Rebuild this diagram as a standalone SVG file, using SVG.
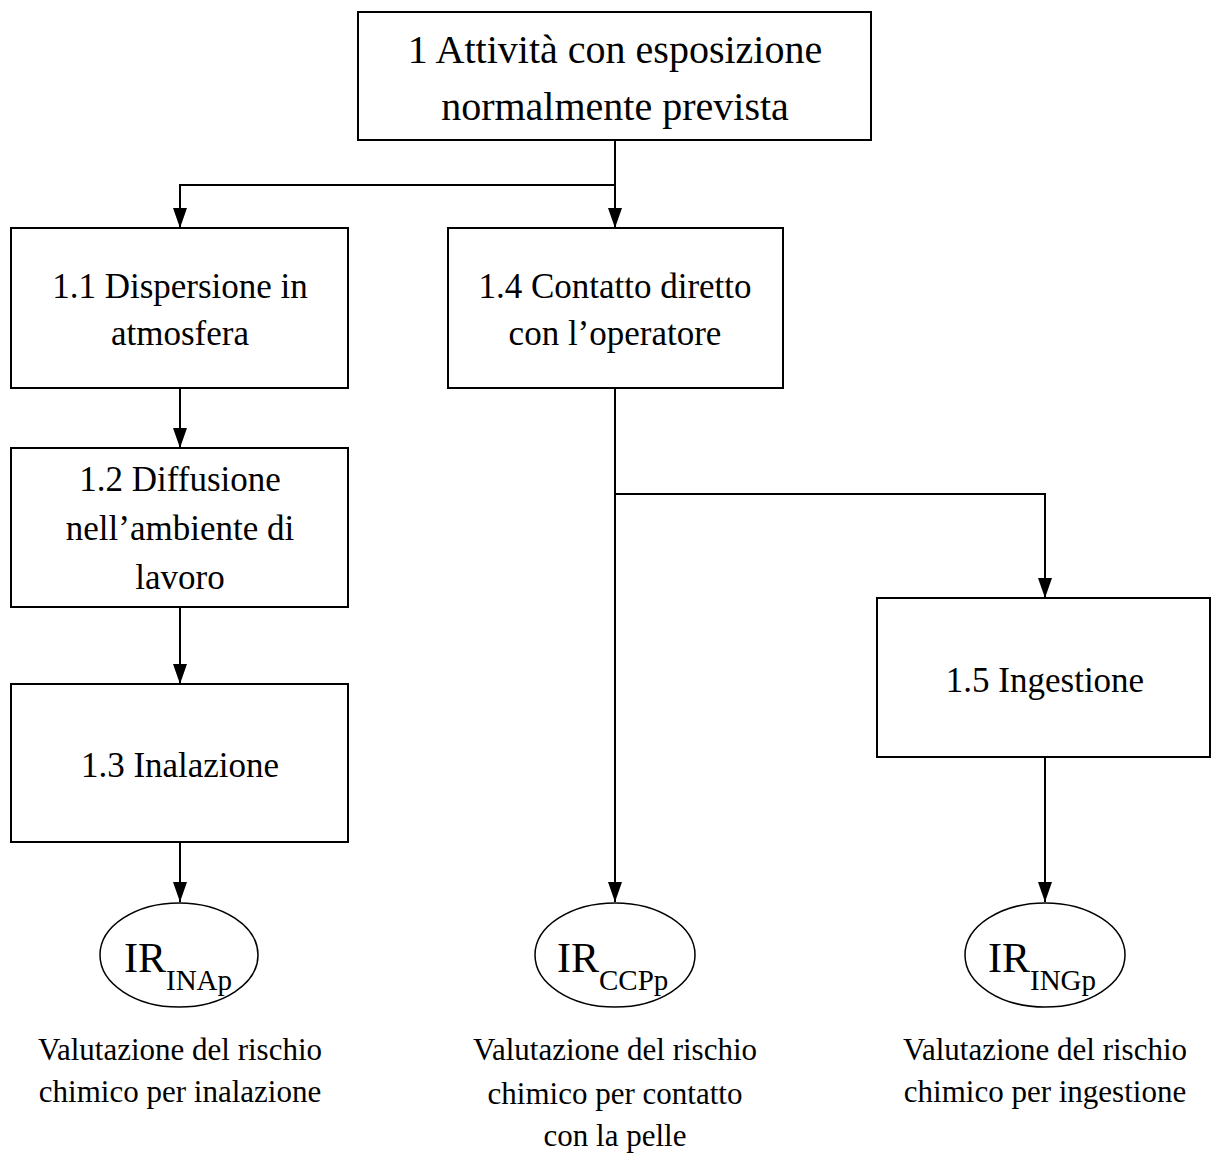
<svg xmlns="http://www.w3.org/2000/svg" width="1211" height="1155" viewBox="0 0 1211 1155">
<style>
.box{fill:#fff;stroke:#000;stroke-width:2}
.ell{fill:#fff;stroke:#000;stroke-width:1.5}
.t{font-family:"Liberation Serif",serif;font-size:35px;fill:#000;text-anchor:middle}
.tb{font-family:"Liberation Serif",serif;font-size:40px;fill:#000;text-anchor:middle}
.ir{font-family:"Liberation Serif",serif;font-size:42px;fill:#000}
.sub{font-size:29px}
.c{font-family:"Liberation Serif",serif;font-size:31px;fill:#000;text-anchor:middle}
.ln{fill:none;stroke:#000;stroke-width:2}
</style>
<defs>
<marker id="ah" viewBox="0 0 20 14" refX="20" refY="7" markerWidth="20" markerHeight="14" markerUnits="userSpaceOnUse" orient="auto">
<path d="M0,0 L20,7 L0,14 Z" fill="#000"/>
</marker>
</defs>
<g id="connectors">
<path class="ln" d="M615,140 V228" marker-end="url(#ah)"/>
<path class="ln" d="M615,185 H180 V228" marker-end="url(#ah)"/>
<path class="ln" d="M180,388 V448" marker-end="url(#ah)"/>
<path class="ln" d="M180,607 V684" marker-end="url(#ah)"/>
<path class="ln" d="M180,842 V902" marker-end="url(#ah)"/>
<path class="ln" d="M615,388 V902" marker-end="url(#ah)"/>
<path class="ln" d="M615,494 H1045 V598" marker-end="url(#ah)"/>
<path class="ln" d="M1045,757 V902" marker-end="url(#ah)"/>
</g>
<g id="n1">
<rect class="box" x="358" y="12" width="513" height="128"/>
<text class="tb" x="615" y="63">1 Attività con esposizione</text>
<text class="tb" x="615" y="120">normalmente prevista</text>
</g>
<g id="n11">
<rect class="box" x="11" y="228" width="337" height="160"/>
<text class="t" x="180" y="298">1.1 Dispersione in</text>
<text class="t" x="180" y="345">atmosfera</text>
</g>
<g id="n14">
<rect class="box" x="448" y="228" width="335" height="160"/>
<text class="t" x="615" y="298">1.4 Contatto diretto</text>
<text class="t" x="615" y="345">con l’operatore</text>
</g>
<g id="n12">
<rect class="box" x="11" y="448" width="337" height="159"/>
<text class="t" x="180" y="491">1.2 Diffusione</text>
<text class="t" x="180" y="540">nell’ambiente di</text>
<text class="t" x="180" y="589">lavoro</text>
</g>
<g id="n13">
<rect class="box" x="11" y="684" width="337" height="158"/>
<text class="t" x="180" y="777">1.3 Inalazione</text>
</g>
<g id="n15">
<rect class="box" x="877" y="598" width="333" height="159"/>
<text class="t" x="1045" y="692">1.5 Ingestione</text>
</g>
<g id="e1">
<ellipse class="ell" cx="179" cy="955" rx="79" ry="52"/>
<text class="ir" x="124" y="972">IR<tspan class="sub" dy="18">INAp</tspan></text>
</g>
<g id="e2">
<ellipse class="ell" cx="615" cy="955" rx="80" ry="52"/>
<text class="ir" x="557" y="972">IR<tspan class="sub" dy="18">CCPp</tspan></text>
</g>
<g id="e3">
<ellipse class="ell" cx="1045" cy="955" rx="80" ry="52"/>
<text class="ir" x="988" y="972">IR<tspan class="sub" dy="18">INGp</tspan></text>
</g>
<g id="l1">
<text class="c" x="180" y="1060">Valutazione del rischio</text>
<text class="c" x="180" y="1102">chimico per inalazione</text>
</g>
<g id="l2">
<text class="c" x="615" y="1060">Valutazione del rischio</text>
<text class="c" x="615" y="1104">chimico per contatto</text>
<text class="c" x="615" y="1146">con la pelle</text>
</g>
<g id="l3">
<text class="c" x="1045" y="1060">Valutazione del rischio</text>
<text class="c" x="1045" y="1102">chimico per ingestione</text>
</g>
</svg>
